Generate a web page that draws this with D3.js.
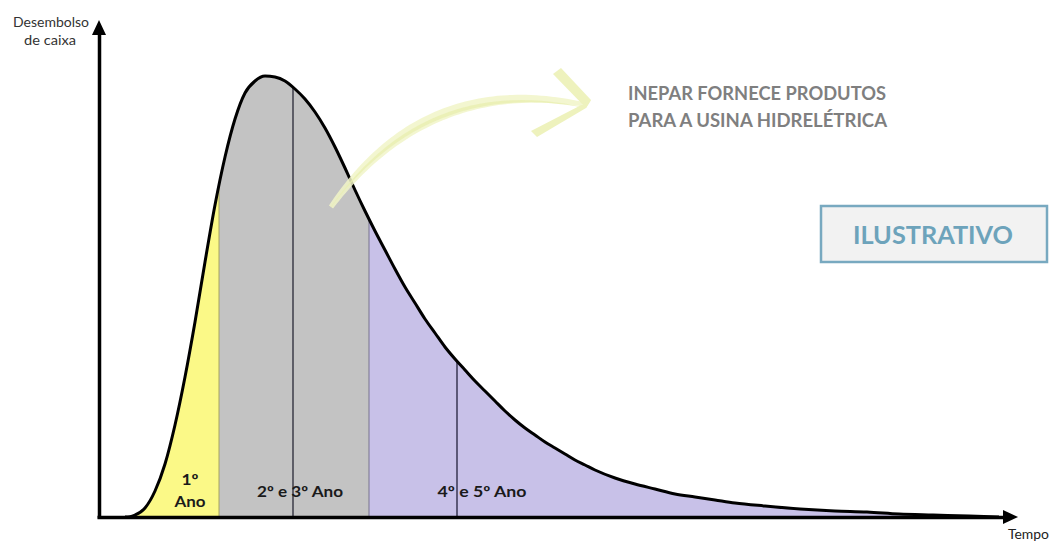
<!DOCTYPE html>
<html>
<head>
<meta charset="utf-8">
<script src="https://cdn.jsdelivr.net/npm/d3@7"></script>
<style>
  html, body { margin: 0; padding: 0; background: #ffffff; }
  svg { display: block; }
  text { font-family: Lato, "Open Sans", "DejaVu Sans", sans-serif; }
</style>
</head>
<body>
<svg id="chart" width="1051" height="542"></svg>
<script>
// ---- data (abstract units) ----
const tempo = [26, 31, 36, 46, 56, 66, 76, 86, 96, 106, 116, 126, 136, 146, 156, 166, 176, 186, 196, 206, 216, 226, 236, 246, 256, 266, 276, 286, 296, 306, 316, 326, 336, 346, 356, 366, 376, 386, 396, 406, 416, 426, 436, 446, 456, 466, 476, 486, 496, 516, 536, 556, 576, 596, 616, 636, 666, 701, 736, 768, 800, 834, 870, 900];
const desembolso = [0, 0.3, 2, 9, 26, 53, 92, 140, 195, 255, 312, 360, 398, 424, 436, 441, 440, 436, 428, 418, 405, 389, 370, 349, 327, 306, 286, 267, 248, 230, 214, 198, 184, 170, 158, 147, 136, 126, 116, 106, 97, 89, 82, 75, 69, 63, 57, 52, 47, 39, 33, 28, 23, 20, 17, 14, 11, 8, 6, 5, 3, 2, 1, 0];

const segmentStart = [0, 120, 270];
const segmentEnd = [120, 270, 920];
const segmentColors = ["#fbf987", "#c3c3c3", "#c8c1e8"];
const dividerLines = [120, 194, 270, 358];
const dividerColors = ["#a6a45e", "#333340", "#77738f", "#2e2c48"];
const dividerWidths = [1, 1.4, 1, 1.4];

const periodLabels = [["1º", "Ano"], ["2º e 3º Ano"], ["4º e 5º Ano"]];
const periodLabelX = [91, 201, 383];

const yAxisLabel = ["Desembolso", "de caixa"];
const xAxisLabel = "Tempo";
const calloutLines = ["INEPAR FORNECE PRODUTOS", "PARA A USINA HIDRELÉTRICA"];
const badgeText = "ILUSTRATIVO";

// ---- scales ----
const x = d3.scaleLinear().domain([0, 920]).range([99, 1019]);
const y = d3.scaleLinear().domain([0, 500]).range([517, 17]);

const data = tempo.map((t, i) => ({ t, v: desembolso[i] }));
const svg = d3.select("#chart");
const defs = svg.append("defs");

const area = d3.area()
  .x(d => x(d.t)).y0(y(0)).y1(d => y(d.v))
  .curve(d3.curveMonotoneX);
const line = d3.line()
  .x(d => x(d.t)).y(d => y(d.v))
  .curve(d3.curveMonotoneX);

// clip for the whole area
defs.append("clipPath").attr("id", "areaClip")
  .append("path").attr("d", area(data));

// coloured segments
segmentStart.forEach((s, i) => {
  defs.append("clipPath").attr("id", "seg" + i)
    .append("rect")
    .attr("x", x(s)).attr("y", 0)
    .attr("width", x(segmentEnd[i]) - x(s)).attr("height", 542);
  svg.append("path")
    .attr("d", area(data))
    .attr("fill", segmentColors[i])
    .attr("clip-path", "url(#seg" + i + ")");
});

// divider lines clipped to the area
const divG = svg.append("g").attr("clip-path", "url(#areaClip)");
dividerLines.forEach((d, i) => {
  divG.append("line")
    .attr("x1", x(d)).attr("x2", x(d))
    .attr("y1", y(500)).attr("y2", y(0))
    .attr("stroke", dividerColors[i])
    .attr("stroke-width", dividerWidths[i]);
});

// the curve
svg.append("path")
  .attr("d", line(data))
  .attr("fill", "none")
  .attr("stroke", "#000")
  .attr("stroke-width", 3);

// ---- axes (no ticks) with arrowheads ----
const xAxisG = svg.append("g").attr("transform", `translate(0,${y(0)})`)
  .call(d3.axisBottom(d3.scaleLinear().domain([0, 1]).range([x(-2), x(906)])).tickValues([]).tickSizeOuter(0));
xAxisG.select(".domain").attr("stroke", "#000").attr("stroke-width", 3.5);
const yAxisG = svg.append("g").attr("transform", `translate(${x(0)},0)`)
  .call(d3.axisLeft(d3.scaleLinear().domain([0, 1]).range([y(-1), y(483)])).tickValues([]).tickSizeOuter(0));
yAxisG.select(".domain").attr("stroke", "#000").attr("stroke-width", 3.5);

// arrowheads
svg.append("path")
  .attr("d", `M${x(904)},${y(0) - 7} L${x(919)},${y(0)} L${x(904)},${y(0) + 7} Z`)
  .attr("fill", "#000");
svg.append("path")
  .attr("d", `M${x(0) - 7},${y(482)} L${x(0)},${y(497)} L${x(0) + 7},${y(482)} Z`)
  .attr("fill", "#000");

// ---- period labels ----
const labelWidths = [[17, 31], [86], [89]];
periodLabels.forEach((lbl, i) => {
  if (lbl.length === 2) {
    [485, 507].forEach((yy, k) => {
      svg.append("text")
        .attr("x", x(periodLabelX[i])).attr("y", yy)
        .attr("text-anchor", "middle")
        .attr("font-size", 15).attr("font-weight", 700).attr("fill", "#1a1a1a")
        .attr("textLength", labelWidths[i][k]).attr("lengthAdjust", "spacingAndGlyphs")
        .text(lbl[k]);
    });
  } else {
    svg.append("text")
      .attr("x", x(periodLabelX[i])).attr("y", 497)
      .attr("text-anchor", "middle")
      .attr("font-size", 15).attr("font-weight", 700).attr("fill", "#1a1a1a")
      .attr("textLength", labelWidths[i][0]).attr("lengthAdjust", "spacingAndGlyphs")
      .text(lbl[0]);
  }
});

// ---- axis labels ----
svg.append("text").attr("x", 51).attr("y", 27).attr("text-anchor", "middle")
  .attr("font-size", 14).attr("fill", "#333")
  .attr("textLength", 76).attr("lengthAdjust", "spacingAndGlyphs").text(yAxisLabel[0]);
svg.append("text").attr("x", 50).attr("y", 45).attr("text-anchor", "middle")
  .attr("font-size", 14).attr("fill", "#333")
  .attr("textLength", 52).attr("lengthAdjust", "spacingAndGlyphs").text(yAxisLabel[1]);
svg.append("text").attr("x", 1008).attr("y", 539)
  .attr("font-size", 13).attr("fill", "#222")
  .attr("textLength", 41).attr("lengthAdjust", "spacingAndGlyphs").text(xAxisLabel);

// ---- pale brush-stroke arrow ----
function bez(p0, p1, p2, t) {
  const u = 1 - t;
  return [u * u * p0[0] + 2 * u * t * p1[0] + t * t * p2[0],
          u * u * p0[1] + 2 * u * t * p1[1] + t * t * p2[1]];
}
const P0 = [331, 207], P1 = [425, 75], P2 = [582, 104];
function stroke(widthFn, offset) {
  const left = [], right = [];
  const N = 60;
  for (let k = 0; k <= N; k++) {
    const t = k / N;
    const p = bez(P0, P1, P2, t);
    const q = bez(P0, P1, P2, Math.min(1, t + 0.01));
    const pp = bez(P0, P1, P2, Math.max(0, t - 0.01));
    const dx = q[0] - pp[0], dy = q[1] - pp[1];
    const len = Math.hypot(dx, dy) || 1;
    const nx = -dy / len, ny = dx / len;
    const w = widthFn(t);
    const c = [p[0] + nx * offset * t, p[1] + ny * offset * t];
    left.push([c[0] + nx * w / 2, c[1] + ny * w / 2]);
    right.push([c[0] - nx * w / 2, c[1] - ny * w / 2]);
  }
  return "M" + left.map(p => p.join(",")).join("L") + "L" + right.reverse().map(p => p.join(",")).join("L") + "Z";
}
const brush = svg.append("g");
brush.append("path")
  .attr("d", stroke(t => 1 + 9 * Math.sin(Math.PI * Math.min(1, 0.15 + t * 0.8)) + 2 * t, 0))
  .attr("fill", "#f1f5c8").attr("opacity", 0.85);
brush.append("path")
  .attr("d", stroke(t => 0.5 + 3 * Math.sin(Math.PI * t), 3))
  .attr("fill", "#e9efb0").attr("opacity", 0.8);
brush.append("path")
  .attr("d", "M553,74 L561,68 L591,100 L586,108 Z")
  .attr("fill", "#eef2bd");
brush.append("path")
  .attr("d", "M591,100 L586,108 L537,137 L531,131 Z")
  .attr("fill", "#eef2bd");

// ---- callout text ----
svg.append("text").attr("x", 628).attr("y", 100)
  .attr("font-size", 18).attr("font-weight", 700).attr("fill", "#7f7f7f")
  .attr("textLength", 258).attr("lengthAdjust", "spacingAndGlyphs")
  .text(calloutLines[0]);
svg.append("text").attr("x", 628).attr("y", 127)
  .attr("font-size", 18).attr("font-weight", 700).attr("fill", "#7f7f7f")
  .attr("textLength", 259).attr("lengthAdjust", "spacingAndGlyphs")
  .text(calloutLines[1]);

// ---- badge ----
svg.append("rect").attr("x", 821).attr("y", 206).attr("width", 226).attr("height", 56)
  .attr("fill", "#f2f2f2").attr("stroke", "#78a9c0").attr("stroke-width", 2.5);
svg.append("text").attr("x", 933).attr("y", 244).attr("text-anchor", "middle")
  .attr("font-size", 25).attr("font-weight", 700).attr("fill", "#6da3bb")
  .attr("textLength", 160).attr("lengthAdjust", "spacingAndGlyphs")
  .text(badgeText);
</script>
</body>
</html>
